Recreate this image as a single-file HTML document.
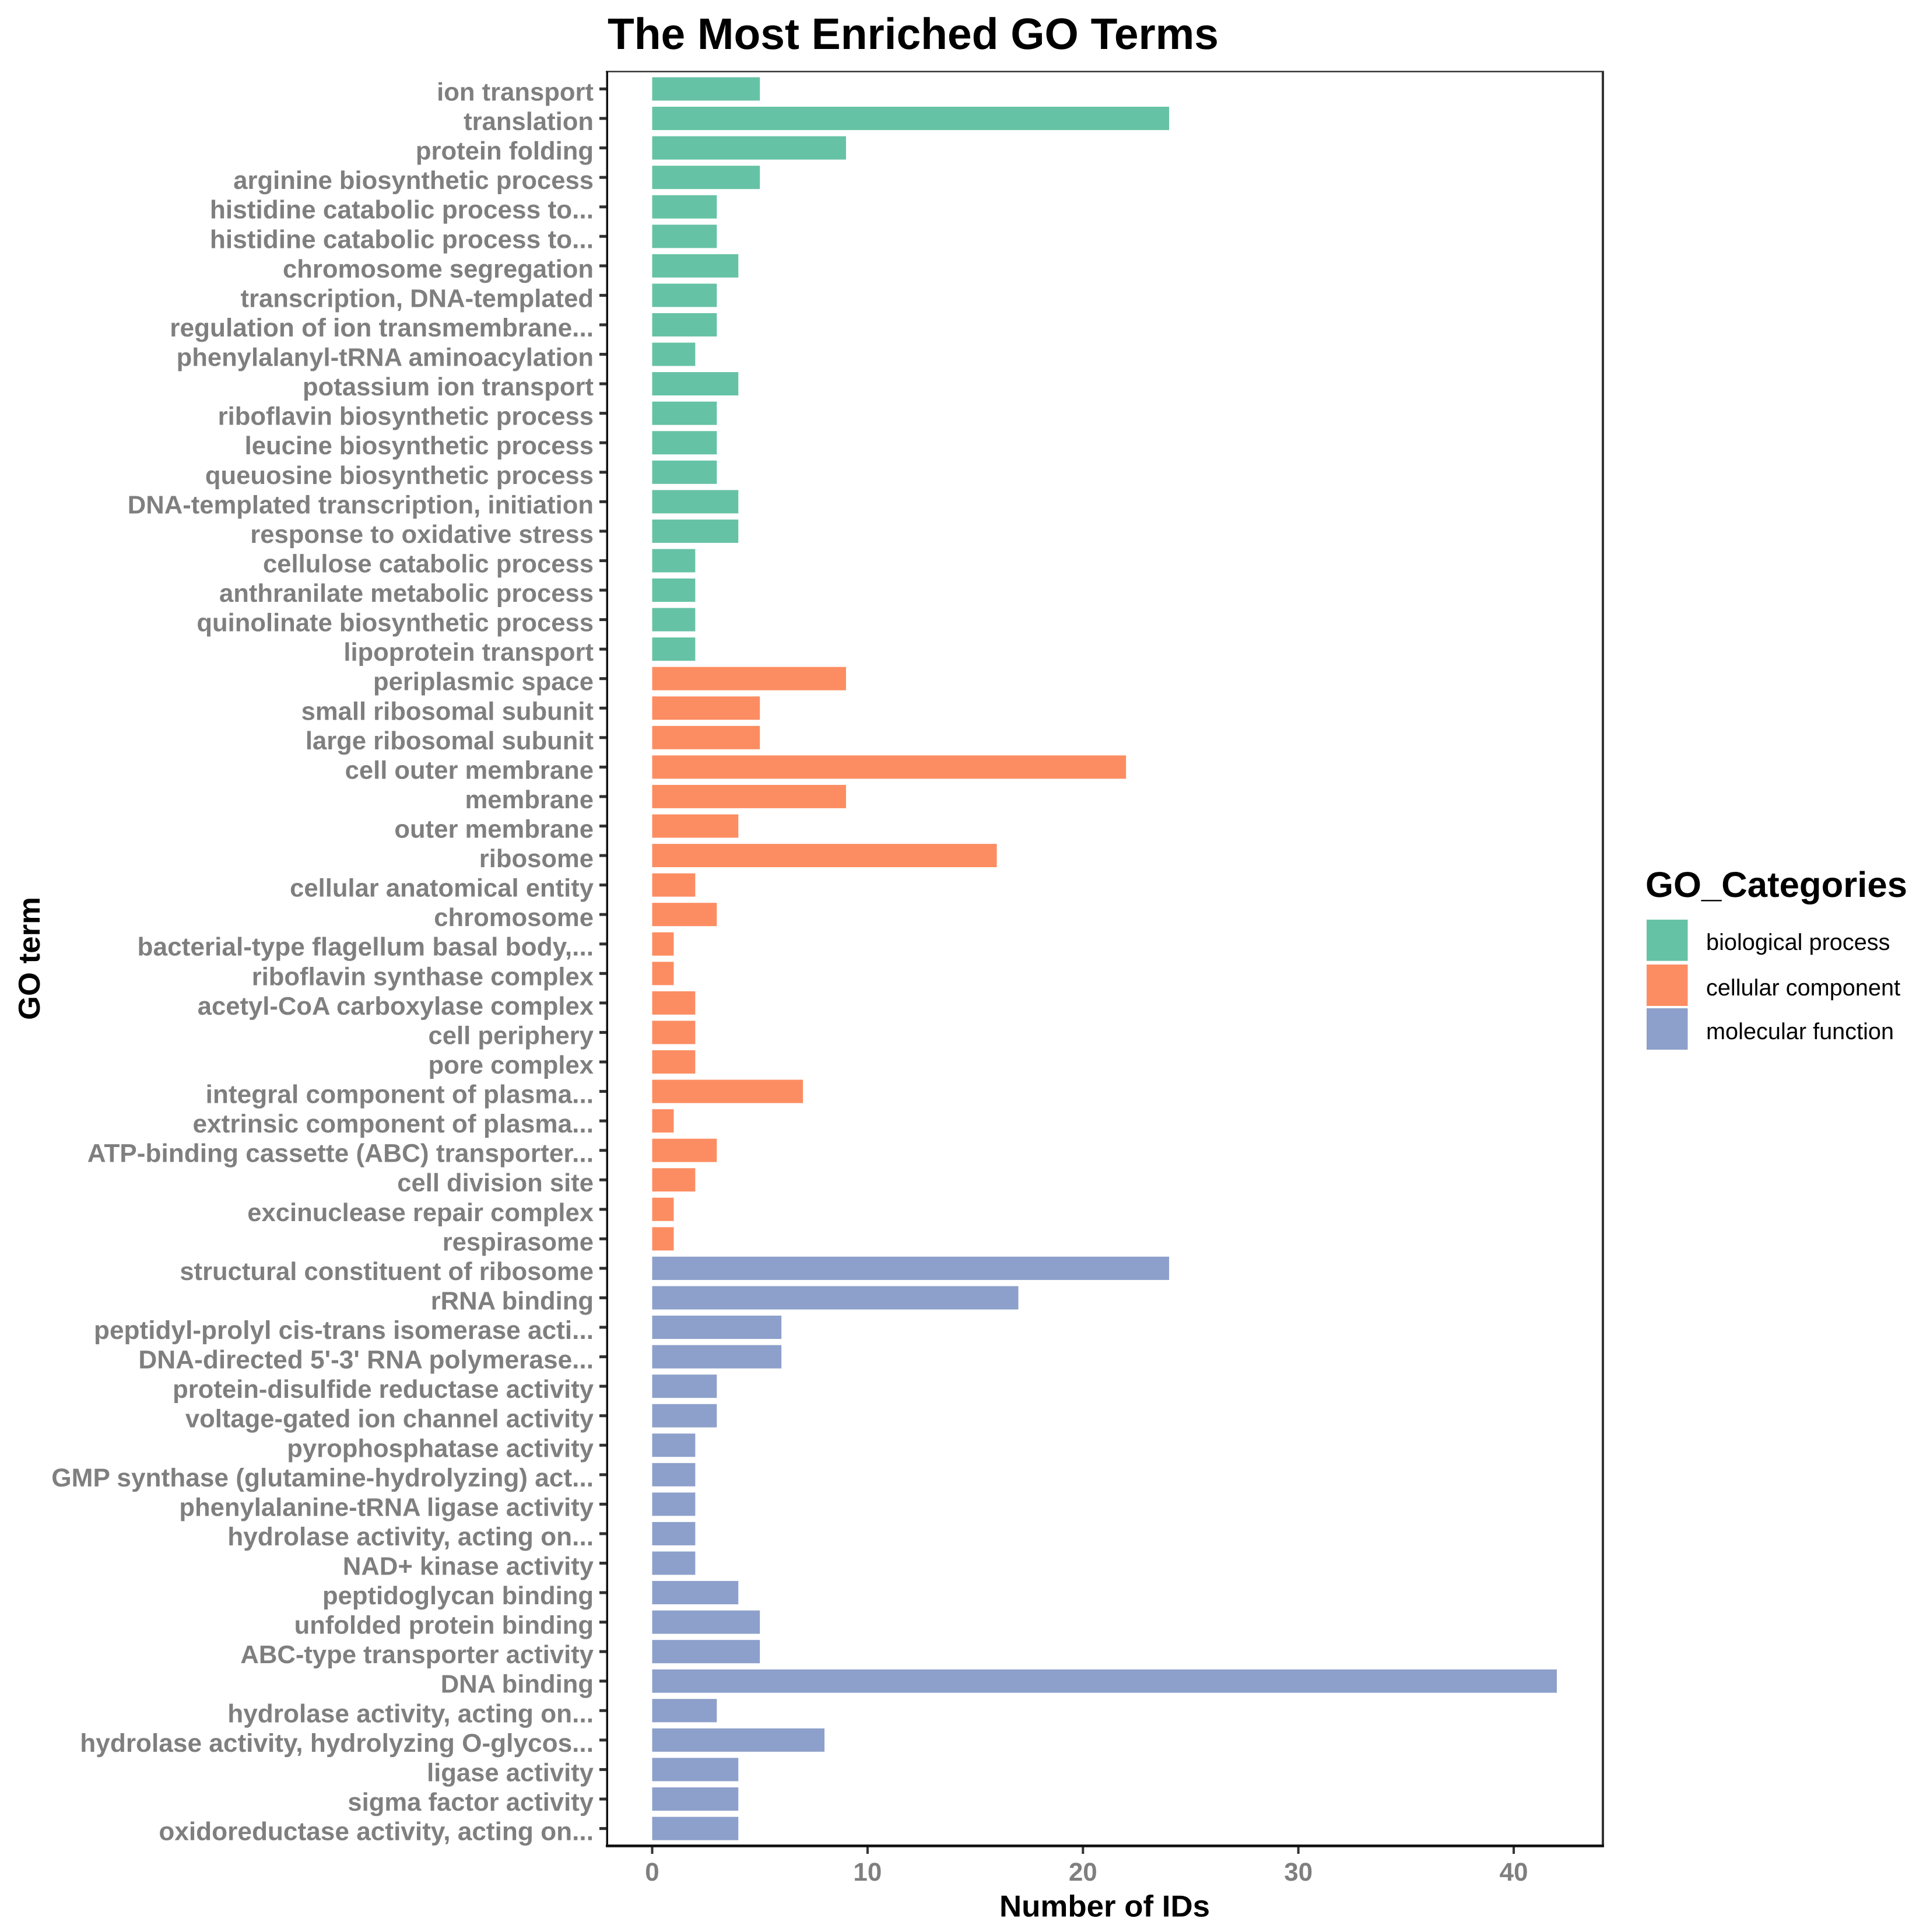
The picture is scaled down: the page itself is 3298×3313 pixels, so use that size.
<!DOCTYPE html>
<html lang="en">
<head>
<meta charset="utf-8">
<title>The Most Enriched GO Terms</title>
<style>
html,body{margin:0;padding:0;background:#fff;}
svg{display:block;}
text{font-family:"Liberation Sans",Arial,sans-serif;text-rendering:geometricPrecision;}
</style>
</head>
<body>
<svg id="chart" xmlns="http://www.w3.org/2000/svg" width="3298" height="3313" viewBox="0 0 3298 3313">
  <rect x="0" y="0" width="3298" height="3313" fill="#ffffff"/>
  <text x="1042" y="84" font-size="75.5" font-weight="700" fill="#000" textLength="1048" lengthAdjust="spacingAndGlyphs">The Most Enriched GO Terms</text>
  <g id="bars"></g>
  <g id="y-ticks"></g>
  <g id="x-ticks"></g>
  <g>
    <rect x="1039" y="121.5" width="1712" height="2.5" fill="#333"/>
    <rect x="2747" y="121.5" width="4" height="3046" fill="#333"/>
    <rect x="1039" y="3163" width="1712" height="4.7" fill="#111"/>
    <rect x="1039.5" y="121.5" width="3.5" height="3046" fill="#111"/>
  </g>
  <text x="1714" y="3286.5" font-size="52" font-weight="700" fill="#000" textLength="361" lengthAdjust="spacingAndGlyphs">Number of IDs</text>
  <text transform="translate(68 1749) rotate(-90)" font-size="52" font-weight="700" fill="#000" textLength="211" lengthAdjust="spacingAndGlyphs">GO term</text>
  <g>
    <text x="2822" y="1538" font-size="61.4" font-weight="700" fill="#000" textLength="449" lengthAdjust="spacingAndGlyphs">GO_Categories</text>
    <rect x="2824" y="1577" width="70.5" height="70.7" fill="#66C2A5"/>
    <text x="2926" y="1629" font-size="39.7" fill="#000">biological process</text>
    <rect x="2824" y="1654" width="70.5" height="71" fill="#FC8D62"/>
    <text x="2926" y="1707" font-size="39.7" fill="#000">cellular component</text>
    <rect x="2824" y="1729" width="70.5" height="71" fill="#8DA0CB"/>
    <text x="2926" y="1782" font-size="39.7" fill="#000">molecular function</text>
  </g>
</svg>
<script>
const termLabels = [
  "ion transport","translation","protein folding","arginine biosynthetic process",
  "histidine catabolic process to...","histidine catabolic process to...","chromosome segregation",
  "transcription, DNA-templated","regulation of ion transmembrane...","phenylalanyl-tRNA aminoacylation",
  "potassium ion transport","riboflavin biosynthetic process","leucine biosynthetic process",
  "queuosine biosynthetic process","DNA-templated transcription, initiation","response to oxidative stress",
  "cellulose catabolic process","anthranilate metabolic process","quinolinate biosynthetic process","lipoprotein transport",
  "periplasmic space","small ribosomal subunit","large ribosomal subunit","cell outer membrane","membrane",
  "outer membrane","ribosome","cellular anatomical entity","chromosome","bacterial-type flagellum basal body,...",
  "riboflavin synthase complex","acetyl-CoA carboxylase complex","cell periphery","pore complex",
  "integral component of plasma...","extrinsic component of plasma...","ATP-binding cassette (ABC) transporter...",
  "cell division site","excinuclease repair complex","respirasome",
  "structural constituent of ribosome","rRNA binding","peptidyl-prolyl cis-trans isomerase acti...",
  "DNA-directed 5'-3' RNA polymerase...","protein-disulfide reductase activity","voltage-gated ion channel activity",
  "pyrophosphatase activity","GMP synthase (glutamine-hydrolyzing) act...","phenylalanine-tRNA ligase activity",
  "hydrolase activity, acting on...","NAD+ kinase activity","peptidoglycan binding","unfolded protein binding",
  "ABC-type transporter activity","DNA binding","hydrolase activity, acting on...",
  "hydrolase activity, hydrolyzing O-glycos...","ligase activity","sigma factor activity","oxidoreductase activity, acting on..."
];
const biologicalProcessCounts = [5,24,9,5,3,3,4,3,3,2,4,3,3,3,4,4,2,2,2,2];
const cellularComponentCounts = [9,5,5,22,9,4,16,2,3,1,1,2,2,2,7,1,3,2,1,1];
const molecularFunctionCounts = [24,17,6,6,3,3,2,2,2,2,2,4,5,5,42,3,8,4,4,4];
const xTickValues = [0,10,20,30,40];

const NS = "http://www.w3.org/2000/svg";
const PLOT = {zeroX:1118.5, unitX:36.94, firstY:152.5, stepY:50.56, barH:40};
function xScale(v){ return PLOT.zeroX + v * PLOT.unitX; }
function yScale(i){ return PLOT.firstY + i * PLOT.stepY; }
function make(tag, attrs, parent){
  const el = document.createElementNS(NS, tag);
  for (const k in attrs) el.setAttribute(k, attrs[k]);
  parent.appendChild(el);
  return el;
}
const barsG = document.getElementById("bars");
const yG = document.getElementById("y-ticks");
const xG = document.getElementById("x-ticks");
const allSeries = [
  {values:biologicalProcessCounts, color:"#66C2A5"},
  {values:cellularComponentCounts, color:"#FC8D62"},
  {values:molecularFunctionCounts, color:"#8DA0CB"}
];
let rowIndex = 0;
allSeries.forEach(function(series){
  series.values.forEach(function(v){
    const cy = yScale(rowIndex);
    const bar = make("rect", {x:xScale(0), y:cy - PLOT.barH/2, width:xScale(v) - xScale(0), height:PLOT.barH, fill:series.color}, barsG);
    
    
    const tick = make("rect", {x:1028, y:cy - 2.5, width:11.5, height:5, fill:"#333"}, yG);
    
    
    const termText = termLabels[rowIndex];
    const labelSize = termText.endsWith("...") ? 44.2 : 43.6;
    const label = make("text", {x:1018, y:cy + 20, "text-anchor":"end", "font-size":labelSize, "font-weight":700, fill:"#7f7f7f"}, yG);
    
    
    label.textContent = termText;
    rowIndex++;
  });
});
xTickValues.forEach(function(t){
  const px = xScale(t);
  const tick = make("rect", {x:px - 2, y:3167, width:4, height:12, fill:"#333"}, xG);
  
  
  const label = make("text", {x:px, y:3225, "text-anchor":"middle", "font-size":44, "font-weight":700, fill:"#7f7f7f"}, xG);
  
  
  label.textContent = String(t);
});
</script>
</body>
</html>
